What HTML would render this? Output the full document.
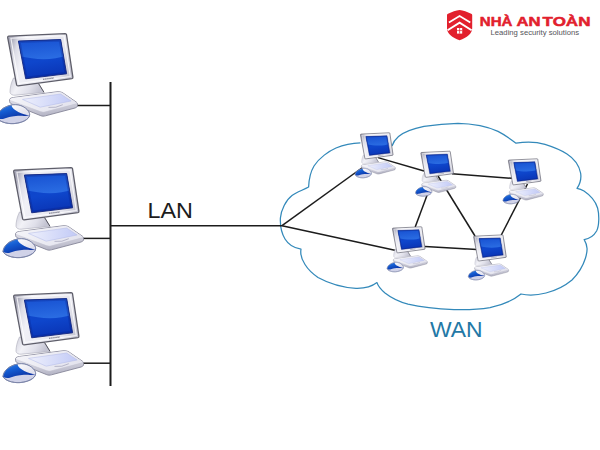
<!DOCTYPE html>
<html lang="vi">
<head>
<meta charset="utf-8">
<title>LAN - WAN</title>
<style>
html,body{margin:0;padding:0;background:#fff;}
body{width:600px;height:450px;overflow:hidden;font-family:"Liberation Sans",sans-serif;}
svg{display:block;}
</style>
</head>
<body>
<svg width="600" height="450" viewBox="0 0 600 450">
<defs>
  <linearGradient id="gScreen" x1="0.3" y1="0" x2="0.5" y2="1">
    <stop offset="0" stop-color="#0f44c8"/>
    <stop offset="0.55" stop-color="#0e46cc"/>
    <stop offset="1" stop-color="#0a34b4"/>
  </linearGradient>
  <linearGradient id="gGloss" x1="0.3" y1="0" x2="0.5" y2="1">
    <stop offset="0" stop-color="#1448c6"/>
    <stop offset="0.5" stop-color="#1c58d6"/>
    <stop offset="1" stop-color="#2a6ce2"/>
  </linearGradient>
  <linearGradient id="gFrame" x1="0" y1="0.4" x2="1" y2="0.6">
    <stop offset="0" stop-color="#a8a8b8"/>
    <stop offset="0.1" stop-color="#dcdce6"/>
    <stop offset="0.22" stop-color="#f0f0f6"/>
    <stop offset="0.8" stop-color="#e6e6ee"/>
    <stop offset="1" stop-color="#c4c4d2"/>
  </linearGradient>
  <linearGradient id="gStand" x1="0" y1="0" x2="1" y2="0.3">
    <stop offset="0" stop-color="#d0d0dc"/>
    <stop offset="0.35" stop-color="#f2f2f7"/>
    <stop offset="0.7" stop-color="#e0e0ea"/>
    <stop offset="1" stop-color="#c4c4d2"/>
  </linearGradient>
  <linearGradient id="gKb" x1="0" y1="0" x2="1" y2="0.4">
    <stop offset="0" stop-color="#f6f6fa"/>
    <stop offset="1" stop-color="#e4e4ee"/>
  </linearGradient>
  <linearGradient id="gKbFront" x1="0" y1="0" x2="0.2" y2="1">
    <stop offset="0" stop-color="#e8e8f0"/>
    <stop offset="0.6" stop-color="#d2d2de"/>
    <stop offset="1" stop-color="#b8b8c8"/>
  </linearGradient>
  <linearGradient id="gKeys" x1="0" y1="0" x2="1" y2="0">
    <stop offset="0" stop-color="#eef0fc"/>
    <stop offset="1" stop-color="#c2caf6"/>
  </linearGradient>
  <linearGradient id="gMouseW" x1="0" y1="0" x2="1" y2="1">
    <stop offset="0" stop-color="#ffffff"/>
    <stop offset="1" stop-color="#d8d8e8"/>
  </linearGradient>
  <linearGradient id="gMouse" x1="0.1" y1="0" x2="0.7" y2="1">
    <stop offset="0" stop-color="#3f8ee8"/>
    <stop offset="0.45" stop-color="#145cd2"/>
    <stop offset="1" stop-color="#0a2c9c"/>
  </linearGradient>
  <clipPath id="cScreen"><path d="M18.4,41 L60.7,39.6 L66.6,73.8 L25.7,78.8 Z"/></clipPath>
  <clipPath id="cMouse"><path d="M-3,117.6 C-2.4,112 3,106.4 12.7,104.8 C20.5,103.9 27.5,108 29.5,113.4 C30.8,117.6 25,122.6 14,123.6 C6,124.1 -1.4,121.2 -3,117.6 Z"/></clipPath>

  <g id="pc">
    <!-- stand -->
    <path d="M13.5,78 C11,83 10,88 10,92.3 C10.5,94.5 12.5,95.3 15,95.2 L44,92.4 L39,84 L28,80 Z" fill="url(#gStand)" stroke="#b4b4c2" stroke-width="0.7"/>
    <path d="M38.5,83.5 L44,92.4" stroke="#55555f" stroke-width="1" fill="none"/>
    <!-- keyboard body -->
    <path d="M9.6,99.6 C9.8,98.4 11.5,97.8 13.5,97.5 L56,91.9 C59,91.5 61,91.8 63,93 L76.4,102.2 C77.3,102.9 77.5,103.6 77.5,104.4 L77.5,105.8 C77.5,106.8 76.4,107.5 75,108 L45.5,115.8 C43.8,116.3 42.4,116.3 40.8,115.7 L13,104.6 C10.8,103.7 9.6,102.8 9.6,101.4 Z" fill="url(#gKbFront)" stroke="#868699" stroke-width="0.9"/>
    <path d="M10,100 C10.1,98.7 11.5,98.1 13.5,97.8 L56,92.2 C59,91.8 61,92.1 63,93.3 L76,102.2 C77,102.9 76.9,103.5 75.8,103.8 L45.2,111.8 C43.6,112.2 42.2,112.2 40.6,111.6 L11,100.9 C10.3,100.6 10,100.4 10,100 Z" fill="url(#gKb)"/>
    <path d="M10.2,100.5 L40.6,111.7 C42.2,112.3 43.6,112.3 45.2,111.9 L77,103.7" fill="none" stroke="#c2c2d0" stroke-width="0.5"/>
    <!-- keys panel -->
    <path d="M22.5,99.4 L60.6,94 L71.2,101 L40.2,107.2 Z" fill="url(#gKeys)" stroke="#b0b8e6" stroke-width="0.5"/>
    <path d="M48.5,107.4 Q56,108.4 62.8,104.7" fill="none" stroke="#a0a0b8" stroke-width="0.7"/>
    <!-- monitor -->
    <path d="M8.8,36.2 L65.2,33.6 Q66.3,33.6 66.5,34.6 L72.9,77.2 Q73.1,78.4 71.9,78.6 L18.1,85.8 Q16.9,85.9 16.6,84.8 L7.7,37.7 Q7.5,36.3 8.8,36.2 Z" fill="url(#gFrame)" stroke="#5e5e6a" stroke-width="1.3"/>
    <path d="M10.9,38.2 L64,35.7 L70.3,76.6 L18.9,83.5 Z" fill="none" stroke="#ffffff" stroke-width="1.1" opacity="0.8"/>
    <!-- screen -->
    <path d="M18.4,41 L60.7,39.6 L66.6,73.8 L25.7,78.8 Z" fill="url(#gScreen)"/>
    <g clip-path="url(#cScreen)">
      <path d="M10,30 L70,30 L70,54 C55,60.5 38,60.5 19,56 Z" fill="url(#gGloss)"/>
      <path d="M18.4,41 L60.7,39.6 L66.6,73.8 L25.7,78.8 Z" fill="none" stroke="#081c84" stroke-width="4" opacity="0.28"/>
    </g>
    <path d="M18.4,41 L60.7,39.6 L66.6,73.8 L25.7,78.8 Z" fill="none" stroke="#16287e" stroke-width="0.9"/>
    <!-- brand -->
    <path d="M43,79.4 L54,77.9" stroke="#8a8a98" stroke-width="1.3" stroke-dasharray="1.6 0.5" fill="none"/>
    <!-- mouse -->
    <path d="M-3,117.6 C-2.4,112 3,106.4 12.7,104.8 C20.5,103.9 27.5,108 29.5,113.4 C30.8,117.6 25,122.6 14,123.6 C6,124.1 -1.4,121.2 -3,117.6 Z" fill="#d0d2e8" stroke="#7c84a8" stroke-width="0.9"/>
    <g clip-path="url(#cMouse)">
      <path d="M11.3,103 L32,103 L32,115.6 L29.3,115.5 C28,115.3 26,114.9 24,114.3 C20,113 16,111 14,109.3 C13,108.6 12,107 11.3,105 Z" fill="url(#gMouseW)"/>
      <path d="M-4,117.6 L-4,103 L11.3,103 L11.3,105 C12,107 13,108.6 14,109.3 C16,111 20,113 24,114.3 C26,114.9 28,115.3 29.5,115.5 C27,116 25,116 24,115.9 C21,115.8 18,115.8 16,116 C13,116.4 11,116.7 9.3,117 C7,117.6 5,118.4 3,118.9 C1,119.3 -1,119 -4,117.6 Z" fill="url(#gMouse)"/>
    </g>
    <path d="M-3,117.6 C-2.4,112 3,106.4 12.7,104.8 C20.5,103.9 27.5,108 29.5,113.4 C30.8,117.6 25,122.6 14,123.6 C6,124.1 -1.4,121.2 -3,117.6 Z" fill="none" stroke="#7c84a8" stroke-width="0.9"/>
  </g>
</defs>

<rect width="600" height="450" fill="#ffffff"/>

<!-- cloud -->
<path id="cloud" fill="none" stroke="#3389ba" stroke-width="1.25" stroke-linejoin="round"
 d="M360.4,142.8 C352,143 343,145 336,148 C329,151 319,158 314,166 C311,171 309,178 308.6,187
    C303,190 296,192.5 292,195.5 C286,200 281,210 280.4,218 C280,226 282,234 285,239 C288,244 294,248 301,249.2
    C300,255 302,260 305,264.5 C309,271 313,274 318,277.5 C328,283 342,287.5 356,288.3 C364,288.5 372,286.5 377,282.6
    C378,286 381,289.5 385,293 C392,298.5 400,302 408,304.2 C420,307 438,309 454,309.6 C466,310 480,309.3 490,307.6 C500,305.5 513,300.5 521,294
    C528,295.5 538,295 546,293 C556,290.5 566,285 572,280 C578,274 583,266 585.5,258 C587.6,251 588,246 584.2,239.6
    C589,238.8 594,235.5 596.6,231 C599.2,226 599.4,215 597.6,208 C595.5,201 590,195 584,191 C582,189.8 579.5,188.8 577,188.4
    C580,184 581.6,179 580.6,173 C579,165 574,158.5 567,154 C560,149.5 552,146.6 545,144.4 C539,142.6 528,141.2 516,143.2
    C511,139.4 504,134.4 498,131.4 C493,129 487,127 480,125.6 C472,124.2 465,123.5 458,123.4 C448,123.6 436,124.6 424,126.4 C414,128.4 404,132 398.5,136.5 C395,139.5 393,143 392,146"/>

<!-- network lines -->
<g stroke="#1c1c1c" stroke-width="1.5" stroke-linecap="butt" fill="none">
  <line x1="110.5" y1="82" x2="110.5" y2="386" stroke-width="2"/>
  <line x1="76" y1="105.6" x2="110" y2="105.6"/>
  <line x1="81" y1="238.4" x2="110" y2="238.4"/>
  <line x1="81" y1="363.2" x2="110" y2="363.2"/>
  <line x1="110" y1="225.7" x2="282" y2="225.7" stroke-width="1.5"/>
  <line x1="282" y1="225.7" x2="362.5" y2="167.5"/>
  <line x1="282" y1="225.7" x2="396" y2="250.5"/>
  <line x1="378" y1="157.6" x2="424" y2="171"/>
  <line x1="452" y1="173.8" x2="512" y2="178.3"/>
  <line x1="429" y1="190" x2="415.2" y2="227"/>
  <line x1="438" y1="176" x2="475" y2="236"/>
  <line x1="425" y1="246.5" x2="477" y2="249.6"/>
  <line x1="527.5" y1="184" x2="501.3" y2="235"/>
</g>

<!-- computers -->
<use href="#pc" x="0" y="0"/>
<use href="#pc" transform="translate(6,134)"/>
<use href="#pc" transform="translate(6,259)"/>
<use href="#pc" transform="translate(356.6,116) scale(0.5)"/>
<use href="#pc" transform="translate(417,134.4) scale(0.5)"/>
<use href="#pc" transform="translate(504.5,142) scale(0.5)"/>
<use href="#pc" transform="translate(388.6,210) scale(0.5)"/>
<use href="#pc" transform="translate(469.8,218.1) scale(0.5)"/>

<!-- labels -->
<text x="147.5" y="218.3" font-family="'Liberation Sans',sans-serif" font-size="21.8" fill="#1c1c1c" textLength="45.4" lengthAdjust="spacingAndGlyphs">LAN</text>
<text x="429.9" y="336.7" font-family="'Liberation Sans',sans-serif" font-size="21.6" fill="#2378a6" textLength="52.6" lengthAdjust="spacingAndGlyphs">WAN</text>

<!-- logo -->
<g id="logo">
  <path d="M447,15 Q447,14.1 448,13.7 C452,11.8 456,10.4 459.6,9.9 C463.2,10.4 467.2,11.8 471.2,13.7 Q472.2,14.1 472.2,15 L472.2,28.2 C472.2,33.4 467,37.6 459.6,40.3 C452.2,37.6 447,33.4 447,28.2 Z" fill="#e2202d"/>
  <path d="M448.9,22.4 L459.6,15.9 L470.3,22.4" fill="none" stroke="#fff" stroke-width="1.7"/>
  <path d="M447.6,30.2 L459.6,22.6 L471.6,30.2" fill="none" stroke="#fff" stroke-width="1.9"/>
  <rect x="457" y="28" width="5.2" height="5.6" fill="#fff"/>
  <path d="M459.6,28 V33.6 M457,30.6 H462.2" stroke="#e2202d" stroke-width="0.7"/>
  <g font-family="'Liberation Sans',sans-serif" font-weight="bold" font-size="12.6" fill="#e2202d" stroke="#e2202d" stroke-width="0.5" stroke-linejoin="round">
    <text x="479.8" y="25.5" textLength="32.6" lengthAdjust="spacingAndGlyphs">NHÀ</text>
    <text x="516.4" y="25.5" textLength="24" lengthAdjust="spacingAndGlyphs">AN</text>
    <text x="542.6" y="25.5" textLength="47.8" lengthAdjust="spacingAndGlyphs">TOÀN</text>
  </g>
  <text x="490.5" y="34.7" font-family="'Liberation Sans',sans-serif" font-size="6.6" fill="#55555a" textLength="88.6" lengthAdjust="spacingAndGlyphs">Leading security solutions</text>
</g>
</svg>
</body>
</html>
